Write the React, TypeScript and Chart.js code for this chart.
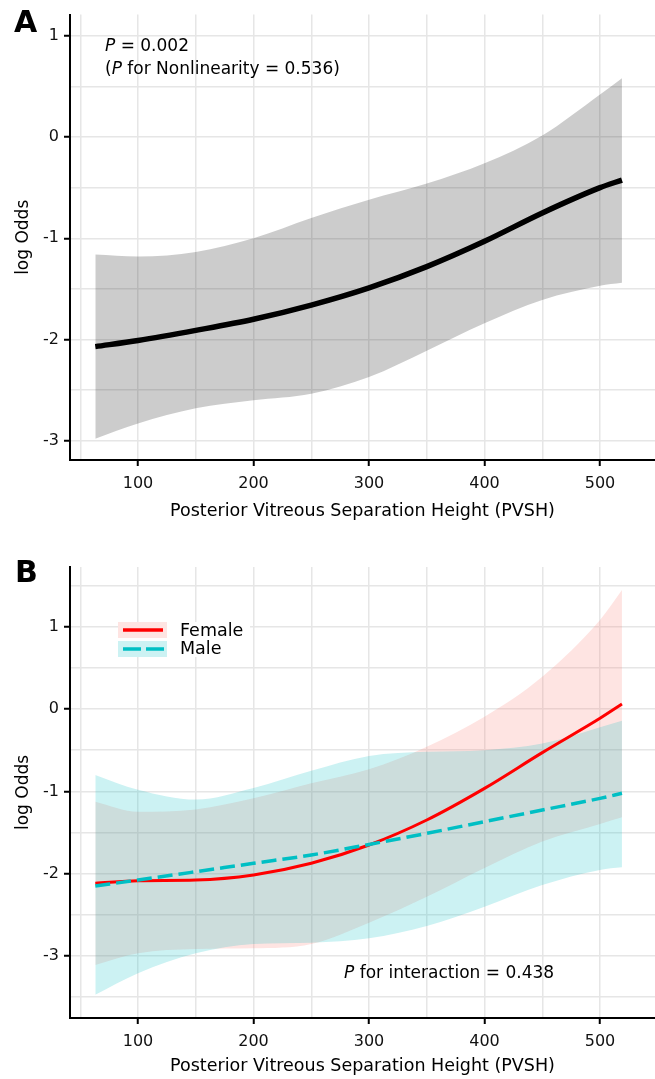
import React, { useEffect, useRef } from 'react';
import { Chart, registerables } from 'chart.js';
Chart.register(...registerables);

// ---------- data ----------
const pvsh = [63, 100, 150, 200, 250, 300, 350, 400, 450, 500, 519];

// Panel A (overall)
const aFit = [-2.07, -2.01, -1.91, -1.8, -1.66, -1.49, -1.28, -1.03, -0.75, -0.5, -0.425];
const aUpper = [-1.16, -1.18, -1.135, -1.0, -0.8, -0.62, -0.46, -0.26, 0.016, 0.42, 0.58];
const aLower = [-2.98, -2.83, -2.68, -2.6, -2.535, -2.37, -2.11, -1.84, -1.61, -1.47, -1.44];

// Panel B (by sex)
const femaleFit = [-2.117, -2.085, -2.077, -2.016, -1.874, -1.652, -1.348, -0.964, -0.53, -0.113, 0.06];
const femaleUpper = [-1.125, -1.247, -1.219, -1.085, -0.903, -0.733, -0.457, -0.093, 0.393, 1.081, 1.445];
const femaleLower = [-3.11, -2.968, -2.915, -2.907, -2.854, -2.595, -2.28, -1.93, -1.61, -1.397, -1.316];
const maleFit = [-2.15, -2.077, -1.976, -1.874, -1.773, -1.645, -1.51, -1.368, -1.227, -1.085, -1.024];
const maleUpper = [-0.8, -0.98, -1.1, -0.96, -0.75, -0.57, -0.52, -0.5, -0.42, -0.22, -0.142];
const maleLower = [-3.47, -3.21, -2.968, -2.854, -2.838, -2.785, -2.636, -2.401, -2.138, -1.955, -1.923];

const xGrid = [50, 100, 150, 200, 250, 300, 350, 400, 450, 500];
const xMajor = [100, 200, 300, 400, 500];
const aYGrid = [-3, -2.5, -2, -1.5, -1, -0.5, 0, 0.5, 1];
const bYGrid = [-3.5, -3, -2.5, -2, -1.5, -1, -0.5, 0, 0.5, 1, 1.5];
const yMajor = [-3, -2, -1, 0, 1];
const seriesNames = ['Female', 'Male'];

const xTitle = 'Posterior Vitreous Separation Height (PVSH)';
const yTitle = 'log Odds';

// ---------- styling ----------
const FONT = '"DejaVu Sans", sans-serif';
const GRID = '#E6E6E6';
const RED = '#FF0000';
const TEAL = '#00BFC4';
const RED_FILL = 'rgba(248,118,109,0.2)';
const TEAL_FILL = 'rgba(0,191,196,0.2)';

const pts = (ys: number[]) => pvsh.map((x, i) => ({ x, y: ys[i] }));

function makeScales(yMin: number, yMax: number, yGrid: number[], xAxisHeight: number) {
  return {
    x: {
      type: 'linear',
      min: 41.1,
      max: 547.6,
      afterBuildTicks: (s: any) => {
        s.ticks = xGrid.map((v) => ({ value: v }));
      },
      afterFit: (s: any) => {
        s.height = xAxisHeight;
      },
      ticks: {
        autoSkip: false,
        maxRotation: 0,
        padding: 8,
        color: '#111',
        font: { family: FONT, size: 16 },
        callback: (v: number) => (xMajor.includes(v) ? String(v) : ''),
      },
      grid: {
        color: GRID,
        lineWidth: 1.5,
        drawTicks: true,
        tickLength: 6,
        tickWidth: 2,
        tickColor: (c: any) => (xMajor.includes(c.tick?.value) ? '#000' : 'rgba(0,0,0,0)'),
      },
      border: { display: true, color: '#000', width: 2 },
      title: {
        display: true,
        text: xTitle,
        color: '#000',
        font: { family: FONT, size: 17.5, lineHeight: 1 },
        padding: { top: 0, bottom: 0.5 },
      },
    },
    y: {
      type: 'linear',
      min: yMin,
      max: yMax,
      afterBuildTicks: (s: any) => {
        s.ticks = yGrid.map((v) => ({ value: v }));
      },
      afterFit: (s: any) => {
        s.width = 70;
      },
      ticks: {
        autoSkip: false,
        padding: 5,
        color: '#111',
        font: { family: FONT, size: 16 },
        callback: (v: number) => (yMajor.includes(v) ? String(v) : ''),
      },
      grid: {
        color: GRID,
        lineWidth: 1.5,
        drawTicks: true,
        tickLength: 6,
        tickWidth: 2,
        tickColor: (c: any) => (yMajor.includes(c.tick?.value) ? '#000' : 'rgba(0,0,0,0)'),
      },
      border: { display: true, color: '#000', width: 2 },
      title: {
        display: true,
        text: yTitle,
        color: '#000',
        font: { family: FONT, size: 17, lineHeight: 1 },
        padding: { top: 15.5, bottom: 0 },
      },
    },
  };
}

function drawRich(ctx: CanvasRenderingContext2D, x: number, y: number, parts: [string, boolean][], size: number) {
  ctx.textBaseline = 'middle';
  ctx.textAlign = 'left';
  ctx.fillStyle = '#000';
  let cx = x;
  for (const [t, it] of parts) {
    ctx.font = `${it ? 'italic ' : ''}${size}px ${FONT}`;
    ctx.fillText(t, cx, y);
    cx += ctx.measureText(t).width;
  }
}

const panelAPlugin = {
  id: 'panelA',
  afterDraw(chart: any) {
    const ctx = chart.ctx as CanvasRenderingContext2D;
    ctx.save();
    ctx.fillStyle = '#000';
    ctx.font = `bold 30px ${FONT}`;
    ctx.textBaseline = 'alphabetic';
    ctx.textAlign = 'left';
    ctx.fillText('A', 14, 32);
    drawRich(ctx, 105, 47, [['P', true], [' = 0.002', false]], 17);
    drawRich(ctx, 105, 70, [['(', false], ['P', true], [' for Nonlinearity = 0.536)', false]], 17);
    ctx.restore();
  },
};

const panelBPlugin = {
  id: 'panelB',
  afterDraw(chart: any) {
    const ctx = chart.ctx as CanvasRenderingContext2D;
    ctx.save();
    ctx.fillStyle = '#000';
    ctx.font = `bold 30px ${FONT}`;
    ctx.textBaseline = 'alphabetic';
    ctx.textAlign = 'left';
    ctx.fillText('B', 15, 43);

    // legend
    const top = 83;
    ctx.fillStyle = '#fff';
    ctx.fillRect(118, top, 132, 35);
    ctx.fillStyle = RED_FILL;
    ctx.fillRect(118, top, 49, 16);
    ctx.fillStyle = TEAL_FILL;
    ctx.fillRect(118, top + 19, 49, 16);
    ctx.lineCap = 'butt';
    ctx.strokeStyle = RED;
    ctx.lineWidth = 3.5;
    ctx.beginPath();
    ctx.moveTo(123, top + 8);
    ctx.lineTo(163, top + 8);
    ctx.stroke();
    ctx.strokeStyle = TEAL;
    ctx.setLineDash([18, 5]);
    ctx.beginPath();
    ctx.moveTo(123, top + 27);
    ctx.lineTo(164, top + 27);
    ctx.stroke();
    ctx.setLineDash([]);
    drawRich(ctx, 180, top + 9.5, [[seriesNames[0], false]], 17.5);
    drawRich(ctx, 180, top + 27.5, [[seriesNames[1], false]], 17.5);

    drawRich(ctx, 344, 434.5, [['P', true], [' for interaction = 0.438', false]], 17);
    ctx.restore();
  },
};

const lineBase = {
  pointRadius: 0,
  cubicInterpolationMode: 'monotone',
  fill: false,
};

export default function App() {
  const refA = useRef<HTMLCanvasElement>(null);
  const refB = useRef<HTMLCanvasElement>(null);

  useEffect(() => {
    const common = {
      animation: false,
      responsive: false,
      maintainAspectRatio: false,
      events: [],
      plugins: { legend: { display: false }, tooltip: { enabled: false } },
    };

    const chartA = new Chart(refA.current as HTMLCanvasElement, {
      type: 'line',
      data: {
        datasets: [
          { ...lineBase, label: 'fit', data: pts(aFit), borderColor: '#000', borderWidth: 5.5, order: 1 },
          {
            ...lineBase,
            label: 'upper',
            data: pts(aUpper),
            borderColor: 'transparent',
            borderWidth: 0,
            backgroundColor: 'rgba(0,0,0,0.2)',
            fill: '+1',
            order: 3,
          },
          { ...lineBase, label: 'lower', data: pts(aLower), borderColor: 'transparent', borderWidth: 0, order: 3 },
        ],
      },
      options: {
        ...common,
        layout: { padding: { left: 0, right: 0, top: 12, bottom: 19 } },
        scales: makeScales(-3.19, 1.209, aYGrid, 61),
      } as any,
      plugins: [panelAPlugin],
    } as any);

    const chartB = new Chart(refB.current as HTMLCanvasElement, {
      type: 'line',
      data: {
        datasets: [
          { ...lineBase, label: 'Male', data: pts(maleFit), borderColor: TEAL, borderWidth: 3.5, borderDash: [15, 6], order: 1 },
          { ...lineBase, label: 'Female', data: pts(femaleFit), borderColor: RED, borderWidth: 3, order: 2 },
          {
            ...lineBase,
            label: 'male upper',
            data: pts(maleUpper),
            borderColor: 'transparent',
            borderWidth: 0,
            backgroundColor: TEAL_FILL,
            fill: '+1',
            order: 4,
          },
          { ...lineBase, label: 'male lower', data: pts(maleLower), borderColor: 'transparent', borderWidth: 0, order: 4 },
          {
            ...lineBase,
            label: 'female upper',
            data: pts(femaleUpper),
            borderColor: 'transparent',
            borderWidth: 0,
            backgroundColor: RED_FILL,
            fill: '+1',
            order: 5,
          },
          { ...lineBase, label: 'female lower', data: pts(femaleLower), borderColor: 'transparent', borderWidth: 0, order: 5 },
        ],
      },
      options: {
        ...common,
        layout: { padding: { left: 0, right: 0, top: 28, bottom: 3 } },
        scales: makeScales(-3.753, 1.725, bYGrid, 58),
      } as any,
      plugins: [panelBPlugin],
    } as any);

    return () => {
      chartA.destroy();
      chartB.destroy();
    };
  }, []);

  return (
    <div style={{ position: 'fixed', left: 0, top: 0, width: 655, height: 1079, background: '#fff' }}>
      <canvas ref={refA} width={655} height={540} style={{ position: 'absolute', left: 0, top: 0, width: 655, height: 540 }} />
      <canvas ref={refB} width={655} height={540} style={{ position: 'absolute', left: 0, top: 539, width: 655, height: 540 }} />
    </div>
  );
}
